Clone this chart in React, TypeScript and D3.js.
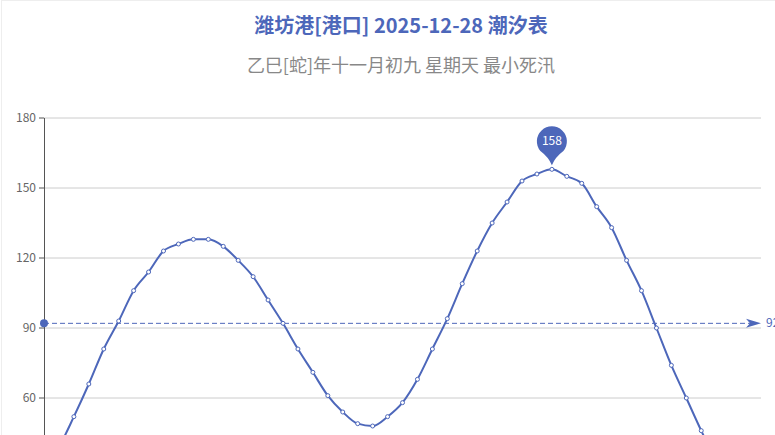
import * as d3 from 'd3'

// half-hour tide readings, cm
const times = [
  '00:00', '00:30', '01:00', '01:30', '02:00', '02:30', '03:00', '03:30',
  '04:00', '04:30', '05:00', '05:30', '06:00', '06:30', '07:00', '07:30',
  '08:00', '08:30', '09:00', '09:30', '10:00', '10:30', '11:00', '11:30',
  '12:00', '12:30', '13:00', '13:30', '14:00', '14:30', '15:00', '15:30',
  '16:00', '16:30', '17:00', '17:30', '18:00', '18:30', '19:00', '19:30',
  '20:00', '20:30', '21:00', '21:30', '22:00', '22:30', '23:00', '23:30',
  '24:00',
]
const tideLevels = [
  30, 39, 52, 66, 81, 93, 106, 114, 123, 126, 128, 128, 125, 119, 112, 102,
  92, 81, 71, 61, 54, 49, 48, 52, 58, 68, 81, 94, 109, 123, 135, 144,
  153, 156, 158, 155, 152, 142, 133, 119, 106, 90, 74, 60, 46, 33, 24, 20,
  21,
]
const yTicks = [0, 30, 60, 90, 120, 150, 180]
const averageLevel = 92

const title = '潍坊港[港口] 2025-12-28 潮汐表'
const subtitle = '乙巳[蛇]年十一月初九 星期天 最小死汛'

const width = 775
const height = 435
const margin = { left: 44, right: 14, top: 118, plotBottom: 538 }
const blue = '#4d67ba'
const font = "'Noto Sans CJK SC', 'Noto Sans', sans-serif"

export default function App() {
  const x = d3.scalePoint<string>()
    .domain(times)
    .range([margin.left, width - margin.right])

  const y = d3.scaleLinear()
    .domain([0, 180])
    .range([margin.plotBottom, margin.top])

  const line = d3.line<number>()
    .x((_, i) => x(times[i]) as number)
    .y(d => y(d))
    .curve(d3.curveMonotoneX)

  const maxIdx = d3.maxIndex(tideLevels)
  const px = x(times[maxIdx]) as number
  const py = y(tideLevels[maxIdx])
  // pin marker geometry
  const r = 15
  const cy = py - 28
  const tipY = py - 4
  const tx = r * Math.cos(Math.PI / 4.5)
  const ty = r * Math.sin(Math.PI / 4.5)
  const pin = `M${px},${tipY} Q${px - 3},${tipY - 8} ${px - tx},${cy + ty} ` +
    `A${r},${r} 0 1 1 ${px + tx},${cy + ty} Q${px + 3},${tipY - 8} ${px},${tipY} Z`

  const avgY = y(averageLevel)
  const x0 = margin.left
  const x1 = width - margin.right

  // the plot runs past the bottom of the window; only ticks in view are drawn
  const visibleTicks = yTicks.filter(t => y(t) < height - 10)

  return (
    <div style={{ position: 'fixed', left: 0, top: 0 }}>
      <svg width={width} height={height} style={{ display: 'block', fontFamily: font }}>
        <rect x={0} y={0} width={width} height={height} fill="#fff" />
        <rect x={1.5} y={0.5} width={width} height={height} fill="none" stroke="#eee" />

        <text x={401} y={33} textAnchor="middle" fontSize={20} fontWeight="bold" fill={blue}>
          {title}
        </text>
        <text x={401} y={72} textAnchor="middle" fontSize={18} fill="#888">
          {subtitle}
        </text>

        {/* grid + y axis */}
        {visibleTicks.map(t => (
          <g key={t}>
            <line x1={x0} x2={x1} y1={y(t)} y2={y(t)} stroke="#ccc" />
            <line x1={x0 - 5} x2={x0} y1={y(t)} y2={y(t)} stroke="#555" />
            <text x={x0 - 8} y={y(t) + 4} textAnchor="end" fontSize={12} fill="#666">{t}</text>
          </g>
        ))}
        <line x1={x0 + 0.5} x2={x0 + 0.5} y1={margin.top} y2={margin.plotBottom} stroke="#555" />

        {/* average mark line */}
        <line x1={x0} x2={x1 - 10} y1={avgY} y2={avgY} stroke={blue} strokeDasharray="5,3" />
        <circle cx={x0} cy={avgY} r={4} fill={blue} />
        <path
          d={`M${x1},${avgY} L${x1 - 15},${avgY - 4.5} L${x1 - 11},${avgY} L${x1 - 15},${avgY + 4.5} Z`}
          fill={blue}
        />
        <text x={x1 + 5} y={avgY + 4} fontSize={12} fill={blue}>{averageLevel}</text>

        {/* tide curve */}
        <path d={line(tideLevels) ?? ''} fill="none" stroke={blue} strokeWidth={2} />
        {tideLevels.map((v, i) => (
          <circle key={i} cx={x(times[i])} cy={y(v)} r={2} fill="#fff" stroke={blue} strokeWidth={1} />
        ))}

        {/* max pin */}
        <path d={pin} fill={blue} />
        <text x={px} y={cy + 4} textAnchor="middle" fontSize={12} fill="#fff">{tideLevels[maxIdx]}</text>
      </svg>
    </div>
  )
}
